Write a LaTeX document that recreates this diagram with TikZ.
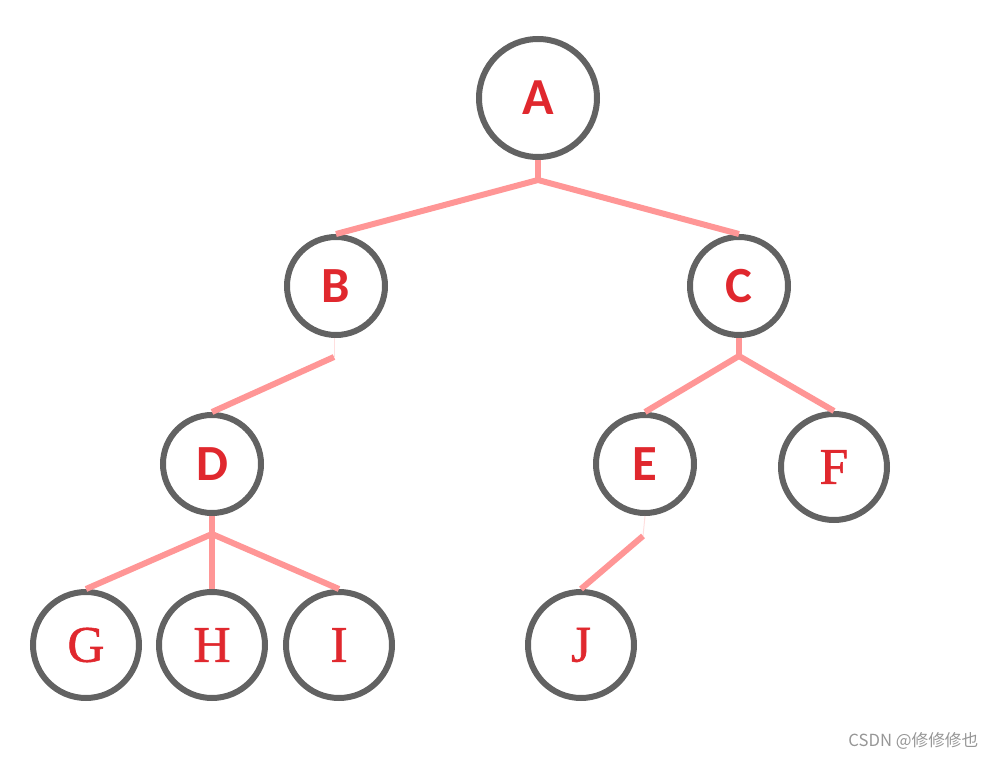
\documentclass[tikz,border=0pt]{standalone}
\usepackage{fontspec}
\setmainfont{Carlito}
\newfontfamily\serifL[AutoFakeBold=1.2]{Liberation Serif}
\newfontfamily\cjk{Noto Sans CJK SC}
\definecolor{ringgray}{RGB}{98,98,98}
\definecolor{edgepink}{RGB}{255,150,150}
\definecolor{labelred}{RGB}{224,40,46}
\definecolor{markgray}{RGB}{150,150,150}
\begin{document}
\begin{tikzpicture}[x=0.75pt,y=-0.75pt,
  ring/.style={circle,draw=ringgray,line width=4.5pt,inner sep=0pt,text=labelred},
  big/.style={ring,minimum size=88.5pt,font=\fontsize{39}{40}\selectfont\bfseries},
  sans/.style={ring,minimum size=73.5pt,font=\fontsize{38}{40}\selectfont\bfseries},
  serif/.style={ring,minimum size=79.5pt,font=\fontsize{38.5}{40}\selectfont\serifL\bfseries},
  edge/.style={draw=edgepink,line width=4.5pt},
  faint/.style={draw=edgepink!30,line width=0.75pt}]
\useasboundingbox (0,0) rectangle (997,759);
\node[big] (A) at (538,98) {A};
\node[sans] (B) at (336,286) {B};
\node[sans] (C) at (739,286) {C};
\node[sans] (D) at (212,464) {D};
\node[sans] (E) at (645,464) {E};
\node[serif] (F) at (834,467) {F};
\node[serif] (G) at (86,645) {G};
\node[serif] (H) at (212,645) {H};
\node[serif] (I) at (339,645) {I};
\node[serif] (J) at (581,645) {J};
\coordinate (jA) at (538,180);
\coordinate (jB) at (334,357);
\coordinate (jC) at (739,356);
\coordinate (jD) at (212,534);
\coordinate (jE) at (643,536);
\draw[edge] (A.south) -- (jA);
\draw[edge] (B.north) -- (jA) -- (C.north);
\draw[faint] (B.south -| jB) -- (jB);
\draw[edge] (jB) -- (D.north);
\draw[edge] (C.south) -- (jC);
\draw[edge] (E.north) -- (jC) -- (F.north);
\draw[edge] (D.south) -- (jD);
\draw[edge] (G.north) -- (jD) -- (I.north);
\draw[edge] (jD) -- (H.north);
\draw[faint] (E.south) -- (jE);
\draw[edge] (jE) -- (J.north);
\node[text=markgray,font=\fontsize{12.5}{14}\selectfont\cjk,anchor=east] (wm) at (983,741) {CSDN @修修修也};
\end{tikzpicture}
\end{document}
